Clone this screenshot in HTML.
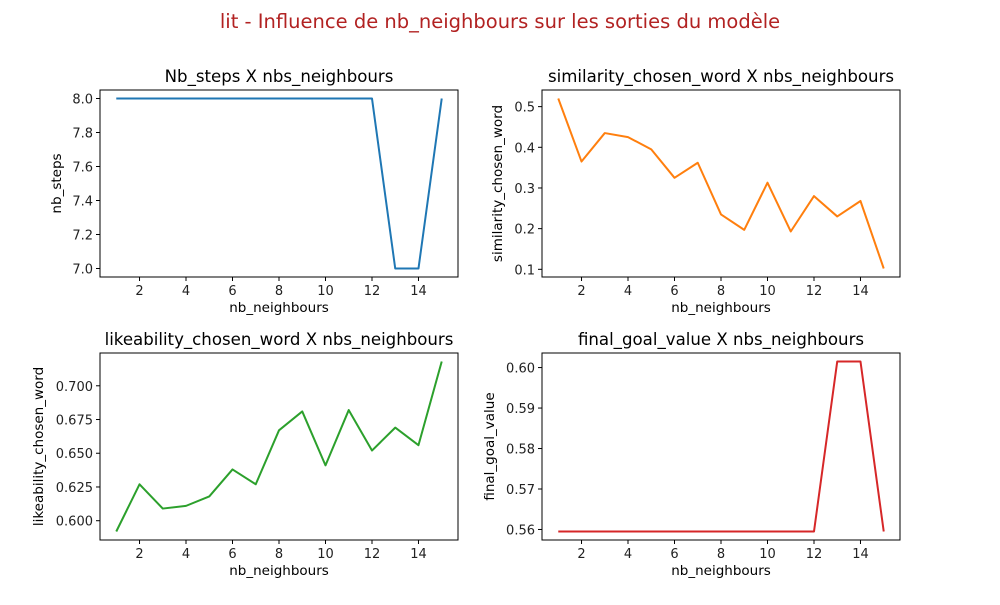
<!DOCTYPE html>
<html><head><meta charset="utf-8"><style>
body{margin:0;background:#fff;font-family:"Liberation Sans","DejaVu Sans",sans-serif}
svg text{font-family:"DejaVu Sans","Liberation Sans",sans-serif}
</style></head><body>
<svg id="fig" width="1000" height="600">
<rect width="1000" height="600" fill="#fff"/>
<text x="500" y="28" text-anchor="middle" font-size="19.5" fill="#b22222">lit - Influence de nb_neighbours sur les sorties du modèle</text>
</svg>
<script>
const xs = [1,2,3,4,5,6,7,8,9,10,11,12,13,14,15];
const xTicks = [2,4,6,8,10,12,14];
const nbSteps = [8,8,8,8,8,8,8,8,8,8,8,8,7,7,8];
const similarity = [0.52,0.365,0.435,0.425,0.395,0.325,0.362,0.235,0.197,0.313,0.193,0.28,0.23,0.268,0.102];
const likeability = [0.592,0.627,0.609,0.611,0.618,0.638,0.627,0.667,0.681,0.641,0.682,0.652,0.669,0.656,0.718];
const finalGoal = [0.5595,0.5595,0.5595,0.5595,0.5595,0.5595,0.5595,0.5595,0.5595,0.5595,0.5595,0.5595,0.6015,0.6015,0.5595];
const ticksSteps = ["7.0","7.2","7.4","7.6","7.8","8.0"];
const ticksSim = ["0.1","0.2","0.3","0.4","0.5"];
const ticksLike = ["0.600","0.625","0.650","0.675","0.700"];
const ticksFinal = ["0.56","0.57","0.58","0.59","0.60"];

const svg = document.getElementById('fig');
const NS = 'http://www.w3.org/2000/svg';
function el(tag, attrs, parent){const e=document.createElementNS(NS,tag);for(const k in attrs)e.setAttribute(k,attrs[k]);(parent||svg).appendChild(e);return e;}

function panel(key, box, vals, yTicks, color, title, ylabel){
  const g = el('g',{});
  
  
  const [L,T,R,B] = box;
  const xmin = Math.min(...xs), xmax = Math.max(...xs), xm=(xmax-xmin)*0.05;
  const ymin = Math.min(...vals), ymax = Math.max(...vals), ym=(ymax-ymin)*0.05;
  const sx = v => L + (v-(xmin-xm))/((xmax+xm)-(xmin-xm))*(R-L);
  const sy = v => B - (v-(ymin-ym))/((ymax+ym)-(ymin-ym))*(B-T);
  const d = vals.map((v,i)=>(i?'L':'M')+sx(xs[i]).toFixed(2)+','+sy(v).toFixed(2)).join(' ');
  const line = el('path',{d:d,fill:'none',stroke:color,'stroke-width':2,'stroke-linejoin':'round'},g);
  
  
  const frame = el('rect',{x:L,y:T,width:R-L,height:B-T,fill:'none',stroke:'#000','stroke-width':1},g);
  
  
  xTicks.forEach(t=>{
    const x=sx(t);
    el('line',{x1:x,x2:x,y1:B,y2:B+4,stroke:'#000'},g);
    const tx=el('text',{x:x,y:B+18,'text-anchor':'middle','font-size':13,fill:'#222'},g);
    tx.textContent=t;
    
    
  });
  yTicks.forEach(t=>{
    const y=sy(parseFloat(t));
    el('line',{x1:L-4,x2:L,y1:y,y2:y,stroke:'#000'},g);
    const ty=el('text',{x:L-7,y:y+5,'text-anchor':'end','font-size':13,fill:'#222'},g);
    ty.textContent=t;
    
    
  });
  const tt=el('text',{x:(L+R)/2,y:T-8,'text-anchor':'middle','font-size':16.6,fill:'#000'},g);
  tt.textContent=title;
  
  
  const xl=el('text',{x:(L+R)/2,y:B+35,'text-anchor':'middle','font-size':13.5,fill:'#000'},g);
  xl.textContent='nb_neighbours';
  
  
  const lx = key==='likeability'?43:(key==='final-goal'?494:(key==='similarity'?502:61));
  const yl=el('text',{x:lx,y:(T+B)/2,'text-anchor':'middle','font-size':13.5,fill:'#000',transform:`rotate(-90 ${lx} ${(T+B)/2})`},g);
  yl.textContent=ylabel;
  
  
}
panel('nb-steps',[100,90,458,277],nbSteps,ticksSteps,'#1f77b4','Nb_steps X nbs_neighbours','nb_steps');
panel('similarity',[542,90,900,277],similarity,ticksSim,'#ff7f0e','similarity_chosen_word X nbs_neighbours','similarity_chosen_word');
panel('likeability',[100,353,458,540],likeability,ticksLike,'#2ca02c','likeability_chosen_word X nbs_neighbours','likeability_chosen_word');
panel('final-goal',[542,353,900,540],finalGoal,ticksFinal,'#d62728','final_goal_value X nbs_neighbours','final_goal_value');
</script>
</body></html>
